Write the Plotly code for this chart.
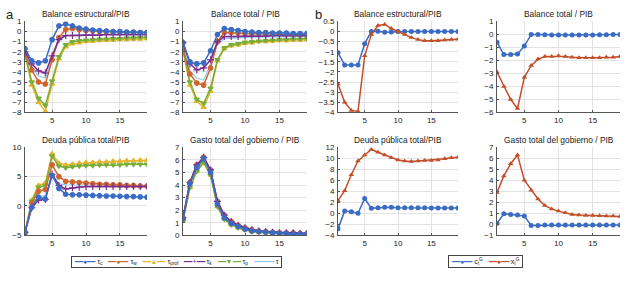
import plotly.graph_objects as go

W, H = 624, 281
t = list(range(1, 20))

# ---------- Panel a ----------
series_a = ["τ<sub>c</sub>", "τ<sub>w</sub>", "τ<sub>prof</sub>", "τ<sub>k</sub>", "τ<sub>p</sub>", "τ"]

bal_est_a = {
    "tc":   [-1.7, -2.9, -3.1, -2.9, -0.8, 0.55, 0.75, 0.55, 0.35, 0.25, 0.15, 0.1, 0.05, 0.0, 0.0, -0.05, -0.05, -0.1, -0.1],
    "tw":   [-2.2, -3.8, -5.0, -5.2, -2.8, -0.6, 0.2, 0.3, 0.2, 0.1, 0.05, 0.0, 0.0, -0.05, -0.05, -0.1, -0.1, -0.1, -0.1],
    "tprof":[-2.3, -5.3, -7.0, -7.9, -5.2, -2.7, -1.5, -1.2, -1.1, -1.0, -0.95, -0.9, -0.85, -0.85, -0.8, -0.8, -0.75, -0.75, -0.7],
    "tk":   [-2.0, -3.2, -3.9, -4.1, -2.4, -0.8, -0.4, -0.4, -0.4, -0.35, -0.35, -0.35, -0.3, -0.3, -0.3, -0.3, -0.3, -0.3, -0.3],
    "tp":   [-2.2, -5.0, -6.6, -7.3, -4.9, -2.5, -1.3, -1.0, -0.9, -0.85, -0.8, -0.75, -0.75, -0.7, -0.7, -0.65, -0.65, -0.6, -0.6],
    "t":    [-2.0, -3.6, -4.4, -4.6, -2.6, -0.9, -0.4, -0.35, -0.35, -0.3, -0.3, -0.3, -0.3, -0.3, -0.3, -0.3, -0.3, -0.3, -0.3],
}
bal_tot_a = {
    "tc":   [-1.1, -3.0, -3.2, -3.1, -1.9, -0.3, 0.3, 0.2, 0.1, 0.0, -0.05, -0.1, -0.1, -0.15, -0.15, -0.15, -0.2, -0.2, -0.2],
    "tw":   [-1.7, -4.2, -5.1, -5.3, -3.6, -1.0, -0.1, -0.1, -0.15, -0.2, -0.2, -0.2, -0.25, -0.25, -0.25, -0.3, -0.3, -0.3, -0.3],
    "tprof":[-1.9, -5.3, -6.9, -7.5, -5.9, -2.9, -1.7, -1.4, -1.3, -1.15, -1.1, -1.0, -1.0, -0.95, -0.9, -0.9, -0.85, -0.85, -0.8],
    "tk":   [-1.1, -3.2, -3.8, -3.6, -2.8, -1.0, -0.5, -0.5, -0.5, -0.45, -0.45, -0.45, -0.45, -0.4, -0.4, -0.4, -0.4, -0.4, -0.4],
    "tp":   [-1.8, -5.0, -6.7, -7.1, -5.6, -2.8, -1.6, -1.3, -1.2, -1.05, -1.0, -0.95, -0.9, -0.85, -0.8, -0.8, -0.75, -0.75, -0.7],
    "t":    [-1.5, -3.9, -4.6, -4.8, -3.2, -1.2, -0.7, -0.65, -0.6, -0.6, -0.55, -0.55, -0.55, -0.5, -0.5, -0.5, -0.5, -0.5, -0.5],
}
deuda_a = {
    "tc":   [-4.5, -0.2, 1.5, 1.2, 5.2, 3.0, 2.0, 1.9, 1.9, 1.85, 1.8, 1.75, 1.7, 1.7, 1.65, 1.6, 1.6, 1.55, 1.5],
    "tw":   [-4.5, 0.5, 2.5, 2.8, 7.0, 5.0, 4.2, 4.1, 4.0, 3.9, 3.8, 3.7, 3.7, 3.6, 3.6, 3.5, 3.5, 3.4, 3.4],
    "tprof":[-4.5, 1.0, 3.5, 3.9, 8.9, 7.3, 7.0, 7.1, 7.3, 7.4, 7.4, 7.5, 7.5, 7.6, 7.6, 7.7, 7.7, 7.8, 7.8],
    "tk":   [-4.5, -0.3, 1.0, 1.1, 5.4, 3.5, 2.9, 3.1, 3.2, 3.3, 3.3, 3.3, 3.3, 3.3, 3.3, 3.3, 3.3, 3.3, 3.3],
    "tp":   [-4.5, 0.8, 3.2, 3.5, 8.5, 6.8, 6.5, 6.7, 6.8, 6.9, 6.9, 7.0, 7.0, 7.0, 7.0, 7.1, 7.1, 7.1, 7.1],
    "t":    [-4.5, 0.0, 1.5, 1.8, 5.5, 3.8, 3.6, 3.6, 3.6, 3.6, 3.6, 3.6, 3.55, 3.55, 3.5, 3.5, 3.5, 3.5, 3.5],
}
gasto_a = {
    "tc":   [1.3, 4.1, 5.4, 6.1, 5.0, 2.5, 1.4, 0.95, 0.7, 0.5, 0.35, 0.3, 0.25, 0.2, 0.15, 0.15, 0.1, 0.1, 0.1],
    "tw":   [1.4, 4.2, 5.6, 6.2, 5.2, 2.7, 1.6, 1.1, 0.8, 0.6, 0.45, 0.35, 0.3, 0.25, 0.2, 0.2, 0.2, 0.15, 0.15],
    "tprof":[1.2, 3.8, 5.1, 5.8, 4.8, 2.3, 1.3, 0.85, 0.6, 0.45, 0.3, 0.25, 0.2, 0.15, 0.1, 0.1, 0.1, 0.1, 0.1],
    "tk":   [1.4, 4.2, 5.6, 6.2, 5.2, 2.7, 1.6, 1.1, 0.8, 0.6, 0.45, 0.35, 0.3, 0.25, 0.2, 0.2, 0.2, 0.15, 0.15],
    "tp":   [1.2, 3.8, 5.1, 5.8, 4.8, 2.3, 1.3, 0.85, 0.6, 0.45, 0.3, 0.25, 0.2, 0.15, 0.1, 0.1, 0.1, 0.1, 0.1],
    "t":    [1.3, 4.0, 5.3, 6.0, 5.0, 2.5, 1.4, 0.9, 0.7, 0.5, 0.35, 0.3, 0.2, 0.15, 0.15, 0.1, 0.1, 0.1, 0.1],
}

# ---------- Panel b ----------
series_b = ["c<sub>t</sub><sup>G</sup>", "x<sub>t</sub><sup>G</sup>"]
bal_est_b = {
    "c": [-1.05, -1.65, -1.65, -1.65, -0.6, 0.0, 0.02, -0.03, -0.02, 0.0, 0.0, 0.0, 0.0, 0.0, 0.0, 0.0, 0.0, 0.0, 0.0],
    "x": [-2.6, -3.5, -3.9, -3.95, -1.2, -0.15, 0.3, 0.35, 0.15, 0.0, -0.15, -0.3, -0.4, -0.45, -0.45, -0.45, -0.42, -0.4, -0.38],
}
bal_tot_b = {
    "c": [-0.6, -1.55, -1.55, -1.5, -0.9, 0.0, 0.0, -0.02, -0.05, -0.05, -0.05, -0.05, -0.05, -0.05, -0.05, -0.03, -0.02, 0.0, 0.0],
    "x": [-2.9, -4.0, -5.0, -5.7, -3.3, -2.4, -1.9, -1.7, -1.7, -1.65, -1.7, -1.75, -1.8, -1.8, -1.8, -1.8, -1.75, -1.75, -1.7],
}
deuda_b = {
    "c": [-2.8, 0.4, 0.3, 0.0, 2.7, 0.9, 1.0, 1.1, 1.1, 1.0, 1.0, 1.0, 1.0, 1.0, 0.95, 0.95, 0.95, 0.95, 0.95],
    "x": [2.3, 4.1, 7.0, 9.5, 10.6, 11.6, 11.1, 10.6, 10.1, 9.7, 9.5, 9.4, 9.5, 9.6, 9.6, 9.7, 9.9, 10.1, 10.2],
}
gasto_b = {
    "c": [0.1, 0.95, 0.9, 0.85, 0.75, -0.1, -0.1, -0.05, -0.05, -0.05, -0.05, -0.05, -0.05, -0.05, -0.05, -0.05, -0.05, -0.05, -0.05],
    "x": [2.9, 4.4, 5.5, 6.3, 4.0, 3.1, 2.3, 1.7, 1.4, 1.2, 1.05, 0.9, 0.85, 0.8, 0.8, 0.78, 0.75, 0.75, 0.72],
}

titles = ["Balance estructural/PIB", "Balance total / PIB", "Balance estructural/PIB", "Balance total / PIB",
          "Deuda pública total/PIB", "Gasto total del gobierno / PIB", "Deuda pública total/PIB", "Gasto total del gobierno / PIB"]

# styles
keys_a = ["tc", "tw", "tprof", "tk", "tp", "t"]
colors_a = {"tc": "#3A6CC4", "tw": "#D0652E", "tprof": "#E6B530", "tk": "#7B2D8E", "tp": "#78AE38", "t": "#8ECFF0"}
symbols_a = {"tc": "circle", "tw": "circle", "tprof": "triangle-up", "tk": "cross-thin", "tp": "triangle-down", "t": None}
glyph_a = {"tc": "●", "tw": "●", "tprof": "▲", "tk": "+", "tp": "▼", "t": "━"}
keys_b = ["c", "x"]
colors_b = {"c": "#3A6CC4", "x": "#C2502A"}
symbols_b = {"c": "circle", "x": "triangle-up"}

# layout (pixel boxes)
cols = [(25, 147), (183, 307), (338, 458), (497, 620)]
rows = [(18, 112), (148, 239)]
yranges = [[(-8, 1), (-8, 1), (-4, 0.5), (-6, 1)],
           [(-5, 10), (0, 7), (-4, 12), (-1, 7)]]
ydticks = [[1, 1, 0.5, 1], [5, 1, 2, 1]]

fig = go.Figure()
font = "Liberation Sans, Arial, sans-serif"
annotations = []
idx = 0
for r in range(2):
    for c in range(4):
        idx += 1
        sx = "" if idx == 1 else str(idx)
        x0, x1 = cols[c]
        ytop, ybot = rows[r]
        lo, hi = yranges[r][c]
        fig.update_layout(**{
            f"xaxis{sx}": dict(domain=[x0 / W, x1 / W], range=[1, 19], anchor=f"y{sx}",
                               tickvals=[5, 10, 15], showgrid=True, gridcolor="#e3e3e3", gridwidth=1,
                               showline=True, linecolor="#555", linewidth=1, ticks="inside", ticklen=2,
                               tickcolor="#555", tickfont=dict(size=8, family=font, color="#222"), zeroline=False,
                               fixedrange=True, ticklabeloverflow="allow"),
            f"yaxis{sx}": dict(domain=[1 - ybot / H, 1 - ytop / H], range=[lo, hi], anchor=f"x{sx}",
                               dtick=ydticks[r][c], tick0=0, showgrid=True, gridcolor="#e3e3e3", gridwidth=1,
                               showline=True, linecolor="#555", linewidth=1, ticks="inside", ticklen=2,
                               tickcolor="#555", tickfont=dict(size=8, family=font, color="#222"), zeroline=False,
                               fixedrange=True, ticklabelstandoff=1, ticklabeloverflow="allow"),
        })
        annotations.append(dict(text=titles[idx - 1], x=(x0 + x1) / 2 / W, y=1 - (ytop - 8) / H,
                                xref="paper", yref="paper", showarrow=False, xanchor="center", yanchor="middle",
                                font=dict(size=8.4, family=font, color="#222")))

panel_a = [bal_est_a, bal_tot_a, deuda_a, gasto_a]
axes_a = ["", "2", "5", "6"]
panel_b = [bal_est_b, bal_tot_b, deuda_b, gasto_b]
axes_b = ["3", "4", "7", "8"]


def marker_a(k, size):
    sym = symbols_a[k]
    if sym is None:
        return None
    return dict(symbol=sym, size=size + (0.5 if sym == "cross-thin" else 0), color=colors_a[k],
                line=dict(color=colors_a[k], width=1.2))


for i, (data, ax) in enumerate(zip(panel_a, axes_a)):
    order = ["t", "tprof", "tp", "tw", "tk", "tc"]
    for k in order:
        sym = symbols_a[k]
        fig.add_trace(go.Scatter(
            x=t, y=data[k], xaxis="x" + ax, yaxis="y" + ax,
            mode="lines" if sym is None else "lines+markers",
            line=dict(color=colors_a[k], width=1.5 if sym else 1.3),
            marker=marker_a(k, 4.5),
            name=series_a[keys_a.index(k)], showlegend=False))

for i, (data, ax) in enumerate(zip(panel_b, axes_b)):
    for k in keys_b:
        fig.add_trace(go.Scatter(
            x=t, y=data[k], xaxis="x" + ax, yaxis="y" + ax, mode="lines+markers",
            line=dict(color=colors_b[k], width=1.5),
            marker=dict(symbol=symbols_b[k], size=5, color=colors_b[k]),
            name=series_b[keys_b.index(k)], showlegend=False))


# compact legend boxes (text keys built from the series names and colours)
def key(color, glyph):
    return (f"<span style='color:{color}'>━━</span><span style='color:{color}'>{glyph}</span>"
            f"<span style='color:{color}'>━━</span>")


sp = "&nbsp;"
legend_a_text = (sp * 3).join(key(colors_a[k], glyph_a[k]) + sp + series_a[i] for i, k in enumerate(keys_a))
legend_b_text = (sp * 3).join(key(colors_b[k], "●") + sp + series_b[i] for i, k in enumerate(keys_b))

for txt, cx in [(legend_a_text, 176), (legend_b_text, 485)]:
    annotations.append(dict(text=sp + txt + sp, x=cx / W, y=1 - 266.5 / H, xref="paper", yref="paper",
                            showarrow=False, xanchor="center", yanchor="middle", bgcolor="white",
                            bordercolor="#444", borderwidth=1, borderpad=1,
                            font=dict(size=7, family=font, color="#222")))

annotations.append(dict(text="a", x=4 / W, y=1 - 1 / H, xref="paper", yref="paper", showarrow=False,
                        xanchor="left", yanchor="top", font=dict(size=13, family=font, color="#222")))
annotations.append(dict(text="b", x=313 / W, y=1 - 1 / H, xref="paper", yref="paper", showarrow=False,
                        xanchor="left", yanchor="top", font=dict(size=13, family=font, color="#222")))

fig.update_layout(
    width=W, height=H, margin=dict(l=0, r=0, t=0, b=0),
    paper_bgcolor="white", plot_bgcolor="white", showlegend=False,
    annotations=annotations,
)

fig.write_html("out.html", config={"displayModeBar": False},
               post_script="document.body.style.margin='0';document.body.style.overflow='hidden';")
